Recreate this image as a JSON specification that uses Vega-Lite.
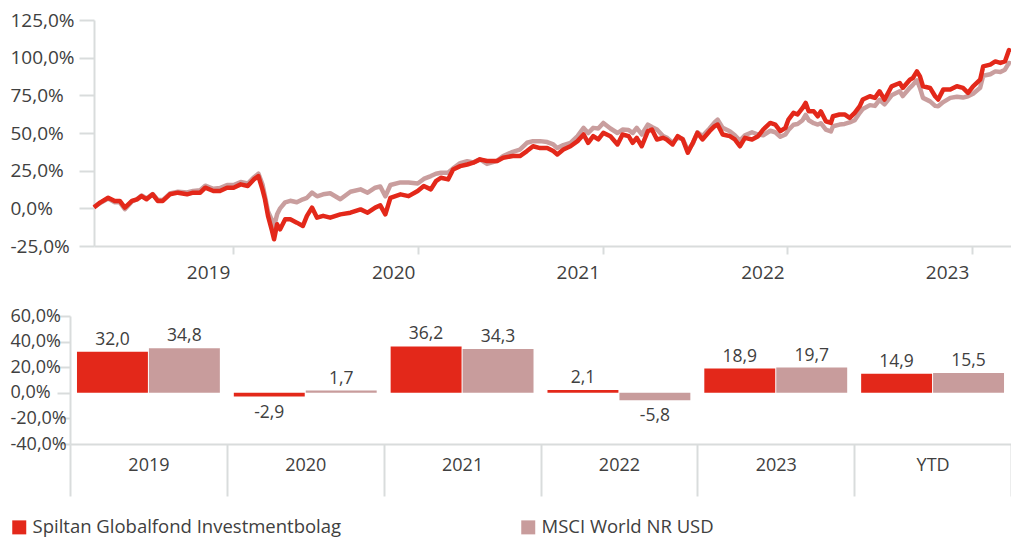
{
  "$schema": "https://vega.github.io/schema/vega-lite/v6.json",
  "padding": {"left": 10, "top": 11, "right": 0, "bottom": 0},
  "background": "white",
  "config": {
    "locale": {"number": {"decimal": ",", "thousands": " ", "grouping": [3], "currency": ["", ""], "minus": "-"}},
    "view": {"stroke": null},
    "font": "Open Sans",
    "axis": {"labelFont": "Open Sans", "labelColor": "#404040", "domainColor": "#d9dcdc", "tickColor": "#d9dcdc", "grid": false, "domainWidth": 2, "tickWidth": 2, "labelOverlap": false, "labelFlush": false, "labelBound": false},
    "legend": {"labelFont": "Open Sans"}
  },
  "spacing": 25,
  "resolve": {"scale": {"color": "independent"}, "legend": {"color": "independent"}},
  "vconcat": [
    {
      "width": 941,
      "height": 226,
      "data": {"values": [
        {"date": "2019-04-01", "spiltan": 0.5, "msci": 1.0},
        {"date": "2019-04-13", "spiltan": 3.8, "msci": 3.5},
        {"date": "2019-04-29", "spiltan": 7.0, "msci": 6.5},
        {"date": "2019-05-12", "spiltan": 4.9, "msci": 4.0},
        {"date": "2019-05-22", "spiltan": 4.9, "msci": 4.0},
        {"date": "2019-06-01", "spiltan": 0.5, "msci": -0.5},
        {"date": "2019-06-15", "spiltan": 4.9, "msci": 4.5},
        {"date": "2019-06-25", "spiltan": 6.0, "msci": 6.0},
        {"date": "2019-07-04", "spiltan": 8.1, "msci": 8.5},
        {"date": "2019-07-14", "spiltan": 6.0, "msci": 6.5},
        {"date": "2019-07-26", "spiltan": 9.3, "msci": 9.5},
        {"date": "2019-08-05", "spiltan": 4.9, "msci": 5.5},
        {"date": "2019-08-15", "spiltan": 4.9, "msci": 5.5},
        {"date": "2019-08-29", "spiltan": 9.3, "msci": 9.8},
        {"date": "2019-09-14", "spiltan": 10.4, "msci": 11.0},
        {"date": "2019-10-02", "spiltan": 9.3, "msci": 10.5},
        {"date": "2019-10-14", "spiltan": 10.4, "msci": 11.5},
        {"date": "2019-10-28", "spiltan": 10.4, "msci": 12.0},
        {"date": "2019-11-07", "spiltan": 13.7, "msci": 15.0},
        {"date": "2019-11-23", "spiltan": 11.5, "msci": 13.0},
        {"date": "2019-12-06", "spiltan": 11.5, "msci": 13.5},
        {"date": "2019-12-20", "spiltan": 13.7, "msci": 15.5},
        {"date": "2020-01-02", "spiltan": 13.7, "msci": 15.5},
        {"date": "2020-01-16", "spiltan": 15.9, "msci": 17.5},
        {"date": "2020-01-30", "spiltan": 14.8, "msci": 16.5},
        {"date": "2020-02-11", "spiltan": 19.2, "msci": 20.5},
        {"date": "2020-02-20", "spiltan": 21.4, "msci": 23.0},
        {"date": "2020-02-28", "spiltan": 12.6, "msci": 16.0},
        {"date": "2020-03-04", "spiltan": 6.0, "msci": 8.0},
        {"date": "2020-03-10", "spiltan": -5.0, "msci": -2.0},
        {"date": "2020-03-18", "spiltan": -15.0, "msci": -8.0},
        {"date": "2020-03-22", "spiltan": -20.5, "msci": -12.0},
        {"date": "2020-03-28", "spiltan": -10.6, "msci": -4.0},
        {"date": "2020-04-03", "spiltan": -13.9, "msci": 0.0},
        {"date": "2020-04-13", "spiltan": -7.3, "msci": 4.0},
        {"date": "2020-04-23", "spiltan": -7.3, "msci": 5.0},
        {"date": "2020-05-06", "spiltan": -9.5, "msci": 4.0},
        {"date": "2020-05-18", "spiltan": -11.7, "msci": 6.0},
        {"date": "2020-05-26", "spiltan": -5.0, "msci": 7.0},
        {"date": "2020-06-05", "spiltan": 0.5, "msci": 10.4},
        {"date": "2020-06-15", "spiltan": -6.2, "msci": 8.0},
        {"date": "2020-06-27", "spiltan": -5.0, "msci": 9.3},
        {"date": "2020-07-11", "spiltan": -6.2, "msci": 10.0},
        {"date": "2020-07-31", "spiltan": -4.0, "msci": 6.0},
        {"date": "2020-08-20", "spiltan": -2.9, "msci": 11.0},
        {"date": "2020-09-09", "spiltan": -0.7, "msci": 12.6},
        {"date": "2020-09-23", "spiltan": -2.9, "msci": 10.4},
        {"date": "2020-10-08", "spiltan": 0.5, "msci": 13.7},
        {"date": "2020-10-18", "spiltan": 2.0, "msci": 14.5},
        {"date": "2020-10-28", "spiltan": -4.0, "msci": 8.0},
        {"date": "2020-11-07", "spiltan": 7.0, "msci": 15.5},
        {"date": "2020-11-27", "spiltan": 9.3, "msci": 17.2},
        {"date": "2020-12-13", "spiltan": 8.1, "msci": 17.2},
        {"date": "2020-12-31", "spiltan": 11.5, "msci": 16.5},
        {"date": "2021-01-12", "spiltan": 14.8, "msci": 19.5},
        {"date": "2021-01-26", "spiltan": 12.6, "msci": 21.4},
        {"date": "2021-02-05", "spiltan": 18.0, "msci": 23.0},
        {"date": "2021-02-15", "spiltan": 20.3, "msci": 23.6},
        {"date": "2021-03-01", "spiltan": 19.2, "msci": 23.6},
        {"date": "2021-03-11", "spiltan": 25.8, "msci": 26.5},
        {"date": "2021-03-25", "spiltan": 28.0, "msci": 30.0},
        {"date": "2021-04-08", "spiltan": 29.1, "msci": 31.3},
        {"date": "2021-04-20", "spiltan": 30.3, "msci": 30.5},
        {"date": "2021-05-03", "spiltan": 32.5, "msci": 32.5},
        {"date": "2021-05-17", "spiltan": 31.4, "msci": 29.5},
        {"date": "2021-06-06", "spiltan": 31.4, "msci": 31.5},
        {"date": "2021-06-18", "spiltan": 33.6, "msci": 34.7},
        {"date": "2021-07-07", "spiltan": 34.7, "msci": 37.5},
        {"date": "2021-07-21", "spiltan": 34.7, "msci": 39.0},
        {"date": "2021-08-04", "spiltan": 38.0, "msci": 43.5},
        {"date": "2021-08-16", "spiltan": 41.2, "msci": 44.6},
        {"date": "2021-08-30", "spiltan": 40.0, "msci": 44.6},
        {"date": "2021-09-13", "spiltan": 40.0, "msci": 44.0},
        {"date": "2021-09-25", "spiltan": 38.0, "msci": 42.4},
        {"date": "2021-10-03", "spiltan": 35.8, "msci": 40.0},
        {"date": "2021-10-15", "spiltan": 39.0, "msci": 42.0},
        {"date": "2021-10-29", "spiltan": 41.2, "msci": 43.5},
        {"date": "2021-11-12", "spiltan": 44.6, "msci": 47.9},
        {"date": "2021-11-24", "spiltan": 49.0, "msci": 53.4},
        {"date": "2021-12-03", "spiltan": 43.5, "msci": 50.0},
        {"date": "2021-12-13", "spiltan": 47.9, "msci": 53.4},
        {"date": "2021-12-23", "spiltan": 45.7, "msci": 53.0},
        {"date": "2022-01-02", "spiltan": 50.1, "msci": 56.7},
        {"date": "2022-01-16", "spiltan": 47.9, "msci": 53.0},
        {"date": "2022-01-30", "spiltan": 42.4, "msci": 50.0},
        {"date": "2022-02-09", "spiltan": 49.0, "msci": 52.3},
        {"date": "2022-02-21", "spiltan": 47.9, "msci": 52.0},
        {"date": "2022-03-01", "spiltan": 43.5, "msci": 50.0},
        {"date": "2022-03-09", "spiltan": 46.8, "msci": 53.4},
        {"date": "2022-03-19", "spiltan": 41.2, "msci": 49.0},
        {"date": "2022-03-31", "spiltan": 51.2, "msci": 55.6},
        {"date": "2022-04-08", "spiltan": 52.3, "msci": 54.0},
        {"date": "2022-04-18", "spiltan": 45.7, "msci": 52.3},
        {"date": "2022-04-30", "spiltan": 46.8, "msci": 48.0},
        {"date": "2022-05-07", "spiltan": 45.7, "msci": 47.0},
        {"date": "2022-05-19", "spiltan": 42.4, "msci": 43.5},
        {"date": "2022-05-29", "spiltan": 47.9, "msci": 47.0},
        {"date": "2022-06-08", "spiltan": 45.7, "msci": 46.0},
        {"date": "2022-06-18", "spiltan": 36.9, "msci": 38.5},
        {"date": "2022-06-28", "spiltan": 43.5, "msci": 43.0},
        {"date": "2022-07-07", "spiltan": 50.1, "msci": 50.5},
        {"date": "2022-07-17", "spiltan": 45.7, "msci": 48.0},
        {"date": "2022-07-31", "spiltan": 51.2, "msci": 53.0},
        {"date": "2022-08-10", "spiltan": 54.5, "msci": 57.0},
        {"date": "2022-08-16", "spiltan": 55.6, "msci": 58.9},
        {"date": "2022-08-26", "spiltan": 49.0, "msci": 53.4},
        {"date": "2022-09-09", "spiltan": 47.9, "msci": 51.2},
        {"date": "2022-09-19", "spiltan": 45.7, "msci": 48.5},
        {"date": "2022-09-29", "spiltan": 41.2, "msci": 45.0},
        {"date": "2022-10-09", "spiltan": 46.8, "msci": 48.5},
        {"date": "2022-10-23", "spiltan": 45.7, "msci": 50.5},
        {"date": "2022-11-04", "spiltan": 47.9, "msci": 49.0},
        {"date": "2022-11-14", "spiltan": 52.3, "msci": 48.5},
        {"date": "2022-11-28", "spiltan": 56.7, "msci": 51.5},
        {"date": "2022-12-08", "spiltan": 55.6, "msci": 50.5},
        {"date": "2022-12-18", "spiltan": 51.2, "msci": 47.5},
        {"date": "2022-12-28", "spiltan": 53.4, "msci": 49.0},
        {"date": "2023-01-03", "spiltan": 58.9, "msci": 52.0},
        {"date": "2023-01-13", "spiltan": 63.4, "msci": 55.5},
        {"date": "2023-01-21", "spiltan": 62.3, "msci": 56.0},
        {"date": "2023-01-31", "spiltan": 66.7, "msci": 58.5},
        {"date": "2023-02-06", "spiltan": 70.0, "msci": 62.0},
        {"date": "2023-02-12", "spiltan": 64.4, "msci": 58.5},
        {"date": "2023-02-22", "spiltan": 64.4, "msci": 56.5},
        {"date": "2023-03-02", "spiltan": 61.1, "msci": 55.6},
        {"date": "2023-03-08", "spiltan": 64.4, "msci": 56.5},
        {"date": "2023-03-18", "spiltan": 57.8, "msci": 52.3},
        {"date": "2023-03-28", "spiltan": 56.7, "msci": 51.0},
        {"date": "2023-04-01", "spiltan": 61.1, "msci": 54.5},
        {"date": "2023-04-14", "spiltan": 62.3, "msci": 55.6},
        {"date": "2023-04-24", "spiltan": 62.3, "msci": 56.0},
        {"date": "2023-05-04", "spiltan": 60.0, "msci": 57.0},
        {"date": "2023-05-14", "spiltan": 63.4, "msci": 58.5},
        {"date": "2023-05-24", "spiltan": 67.8, "msci": 63.4},
        {"date": "2023-05-30", "spiltan": 72.2, "msci": 66.0},
        {"date": "2023-06-13", "spiltan": 74.4, "msci": 68.5},
        {"date": "2023-06-23", "spiltan": 73.3, "msci": 68.0},
        {"date": "2023-07-02", "spiltan": 77.7, "msci": 72.0},
        {"date": "2023-07-12", "spiltan": 72.2, "msci": 69.0},
        {"date": "2023-07-26", "spiltan": 81.0, "msci": 75.0},
        {"date": "2023-08-11", "spiltan": 83.2, "msci": 77.7},
        {"date": "2023-08-17", "spiltan": 79.9, "msci": 74.5},
        {"date": "2023-08-31", "spiltan": 85.4, "msci": 80.0},
        {"date": "2023-09-06", "spiltan": 86.5, "msci": 82.0},
        {"date": "2023-09-14", "spiltan": 90.9, "msci": 85.0},
        {"date": "2023-09-20", "spiltan": 87.6, "msci": 80.0},
        {"date": "2023-09-26", "spiltan": 81.0, "msci": 73.3},
        {"date": "2023-10-10", "spiltan": 79.9, "msci": 71.0},
        {"date": "2023-10-20", "spiltan": 74.4, "msci": 68.0},
        {"date": "2023-10-26", "spiltan": 72.2, "msci": 67.8},
        {"date": "2023-11-05", "spiltan": 78.8, "msci": 70.5},
        {"date": "2023-11-19", "spiltan": 78.8, "msci": 73.3},
        {"date": "2023-12-02", "spiltan": 81.0, "msci": 74.0},
        {"date": "2023-12-14", "spiltan": 79.9, "msci": 73.5},
        {"date": "2023-12-24", "spiltan": 76.6, "msci": 74.4},
        {"date": "2024-01-03", "spiltan": 81.0, "msci": 76.0},
        {"date": "2024-01-17", "spiltan": 85.4, "msci": 80.0},
        {"date": "2024-01-23", "spiltan": 94.2, "msci": 88.0},
        {"date": "2024-02-06", "spiltan": 95.4, "msci": 89.0},
        {"date": "2024-02-16", "spiltan": 97.5, "msci": 90.9},
        {"date": "2024-02-26", "spiltan": 96.5, "msci": 90.5},
        {"date": "2024-03-06", "spiltan": 97.5, "msci": 92.0},
        {"date": "2024-03-14", "spiltan": 105.0, "msci": 96.5},
        {"date": "2024-03-18", "spiltan": 104.0, "msci": 96.0}
      ]},
      "encoding": {
        "x": {
          "field": "date", "type": "temporal",
          "scale": {"type": "utc", "range": [24, 941], "domain": [{"year": 2019, "month": 4, "date": 1, "utc": true}, {"year": 2024, "month": 3, "date": 18, "utc": true}]},
          "axis": {
            "title": null,
            "values": [
              {"year": 2020, "month": 1, "date": 1, "utc": true},
              {"year": 2021, "month": 1, "date": 1, "utc": true},
              {"year": 2022, "month": 1, "date": 1, "utc": true},
              {"year": 2023, "month": 1, "date": 1, "utc": true},
              {"year": 2024, "month": 1, "date": 1, "utc": true}
            ],
            "labelExpr": "toString(utcyear(datum.value) - 1)",
            "tickSize": 8, "labelPadding": 9, "labelOffset": -25, "labelFontSize": 19
          }
        }
      },
      "layer": [
        {
          "mark": {"type": "line", "color": "#C99E9E", "strokeWidth": 4.5, "strokeJoin": "round"},
          "encoding": {
            "y": {
              "field": "msci", "type": "quantitative",
              "scale": {"domain": [-25, 125], "nice": false, "zero": false},
              "axis": {"title": null, "values": [-25, 0, 25, 50, 75, 100, 125], "format": ".1f", "labelExpr": "datum.label + '%'", "labelOverlap": false, "labelAlign": "left", "offset": -24, "tickSize": 15, "labelPadding": 69, "labelFontSize": 19, "minExtent": 60, "maxExtent": 60}
            }
          }
        },
        {
          "mark": {"type": "line", "color": "#E3281A", "strokeWidth": 4.5, "strokeJoin": "round"},
          "encoding": {
            "y": {
              "field": "spiltan", "type": "quantitative",
              "scale": {"domain": [-25, 125], "nice": false, "zero": false},
              "axis": {"title": null, "values": [-25, 0, 25, 50, 75, 100, 125], "format": ".1f", "labelExpr": "datum.label + '%'", "labelOverlap": false, "labelAlign": "left", "offset": -24, "tickSize": 15, "labelPadding": 69, "labelFontSize": 19, "minExtent": 60, "maxExtent": 60}
            }
          }
        }
      ]
    },
    {
      "width": 941,
      "height": 128,
      "data": {"values": [
        {"period": "2019", "Spiltan Globalfond Investmentbolag": 32.0, "MSCI World NR USD": 34.8},
        {"period": "2020", "Spiltan Globalfond Investmentbolag": -2.9, "MSCI World NR USD": 1.7},
        {"period": "2021", "Spiltan Globalfond Investmentbolag": 36.2, "MSCI World NR USD": 34.3},
        {"period": "2022", "Spiltan Globalfond Investmentbolag": 2.1, "MSCI World NR USD": -5.8},
        {"period": "2023", "Spiltan Globalfond Investmentbolag": 18.9, "MSCI World NR USD": 19.7},
        {"period": "YTD", "Spiltan Globalfond Investmentbolag": 14.9, "MSCI World NR USD": 15.5}
      ]},
      "transform": [{"fold": ["Spiltan Globalfond Investmentbolag", "MSCI World NR USD"], "as": ["series", "value"]}],
      "encoding": {
        "x": {
          "field": "period", "type": "nominal",
          "sort": ["2019", "2020", "2021", "2022", "2023", "YTD"],
          "scale": {"paddingInner": 0, "paddingOuter": 0},
          "axis": {"title": null, "labelAngle": 0, "tickBand": "extent", "tickSize": 52, "labelPadding": -40, "labelFontSize": 18}
        },
        "xOffset": {
          "field": "series", "type": "nominal",
          "scale": {"domain": ["Spiltan Globalfond Investmentbolag", "MSCI World NR USD"], "paddingInner": 0.014, "paddingOuter": 0.097}
        },
        "y": {
          "field": "value", "type": "quantitative",
          "scale": {"domain": [-40, 60], "nice": false},
          "axis": {"title": null, "values": [-40, -20, 0, 20, 40, 60], "format": ".1f", "labelExpr": "datum.label + '%'", "labelOverlap": false, "labelAlign": "left", "tickSize": 13, "labelPadding": 47, "labelFontSize": 18, "minExtent": 60, "maxExtent": 60}
        }
      },
      "layer": [
        {
          "mark": {"type": "bar"},
          "encoding": {
            "color": {
              "field": "series", "type": "nominal",
              "scale": {"domain": ["Spiltan Globalfond Investmentbolag", "MSCI World NR USD"], "range": ["#E3281A", "#C89C9C"]},
              "legend": {"orient": "none", "legendX": -60, "legendY": 202, "direction": "horizontal", "title": null, "symbolType": "square", "symbolSize": 196, "symbolStrokeWidth": 0, "symbolOpacity": 1, "labelFontSize": 18.5, "labelColor": "#404040", "labelOffset": 4, "columnPadding": 177, "labelLimit": 500}
            }
          }
        },
        {
          "transform": [{"filter": "datum.value >= 0"}],
          "mark": {"type": "text", "baseline": "alphabetic", "dy": -7, "fontSize": 17.5, "color": "#404040"},
          "encoding": {"text": {"field": "value", "type": "quantitative", "format": ".1f"}}
        },
        {
          "transform": [{"filter": "datum.value < 0"}],
          "mark": {"type": "text", "baseline": "alphabetic", "dy": 21, "fontSize": 17.5, "color": "#404040"},
          "encoding": {"text": {"field": "value", "type": "quantitative", "format": ".1f"}}
        }
      ]
    }
  ]
}
